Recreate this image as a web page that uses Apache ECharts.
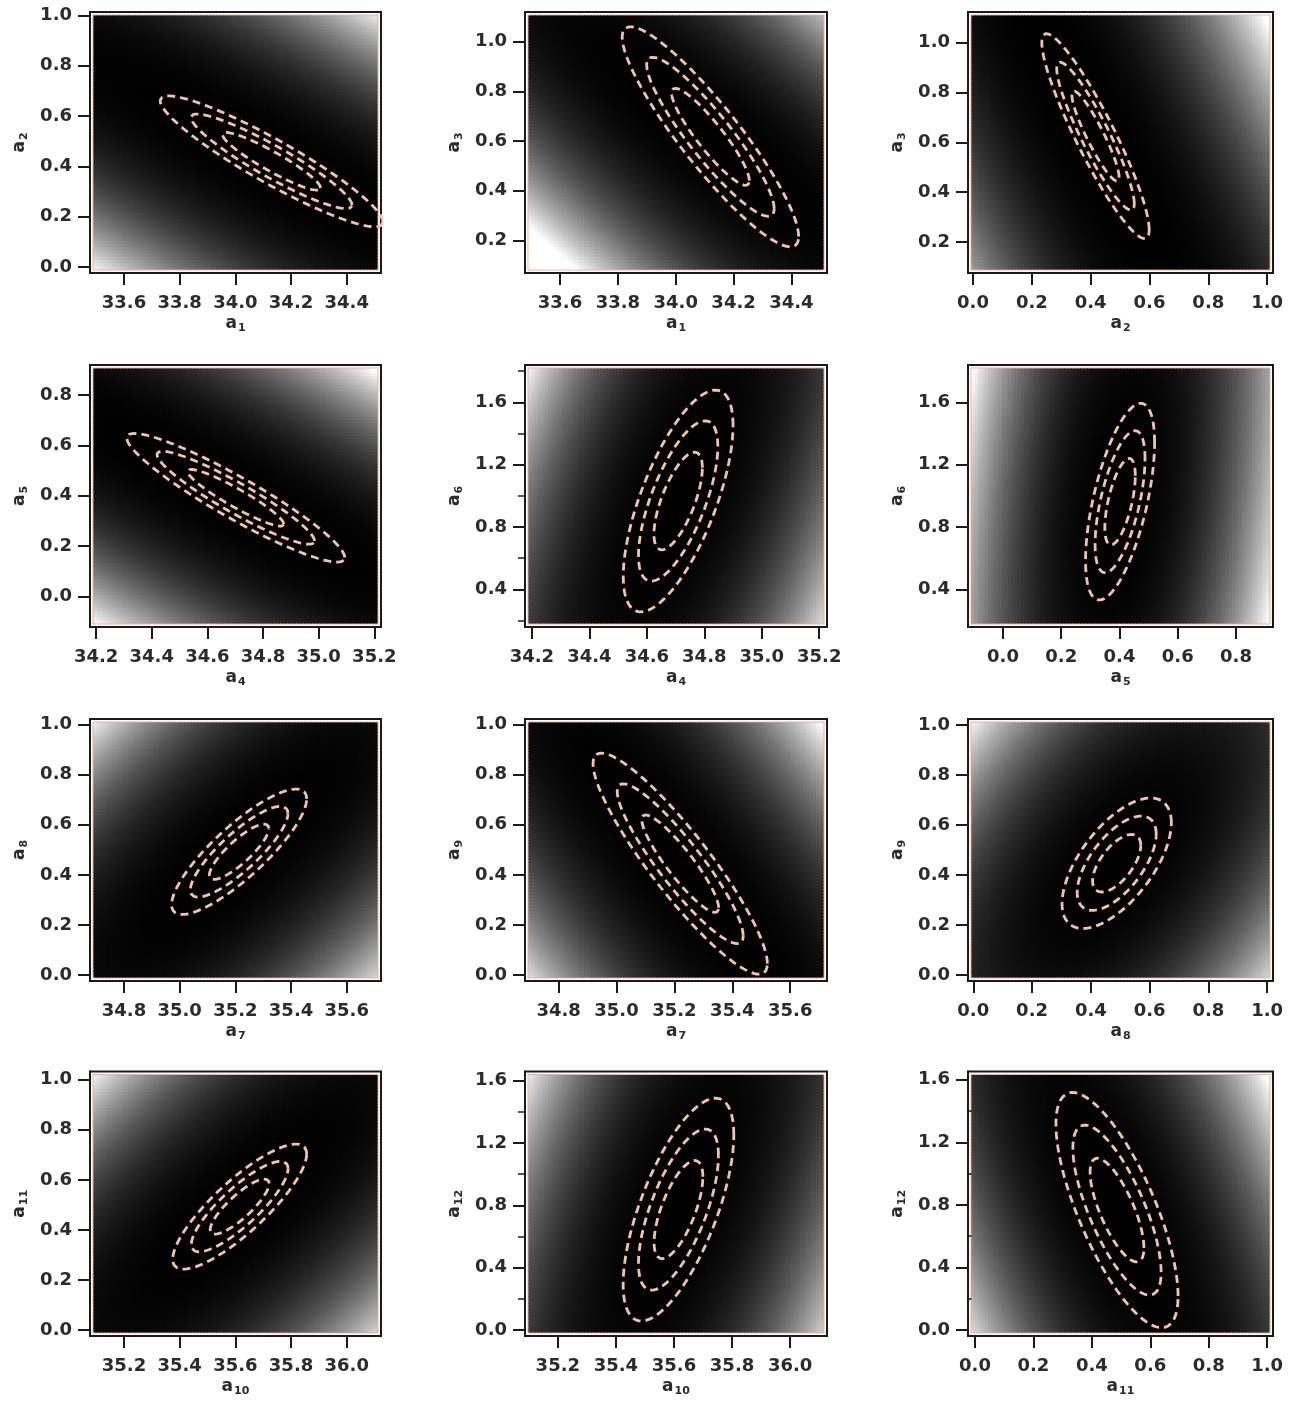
<!DOCTYPE html>
<html><head><meta charset="utf-8">
<script src="https://cdn.jsdelivr.net/npm/echarts@6/dist/echarts.min.js"></script>
<style>html,body{margin:0;padding:0;background:#fff}#chart{width:1306px;height:1406px}</style>
</head><body><div id="chart"></div>
<script>
// ---------- DATA ----------
const xSub = ['1', '1', '2', '4', '4', '5', '7', '7', '8', '10', '10', '11'];   // x axis: a_k
const ySub = ['2', '3', '3', '5', '6', '6', '8', '9', '9', '11', '12', '12'];   // y axis: a_k

const xMin = [33.478, 33.479, -0.017, 34.178, 34.176, -0.12, 34.678, 34.684, -0.018, 35.078, 35.087, -0.024];
const xMax = [34.523, 34.523, 1.02, 35.224, 35.227, 0.927, 35.723, 35.727, 1.02, 36.123, 36.127, 1.02];
const yMin = [-0.024, 0.069, 0.076, -0.122, 0.158, 0.158, -0.023, -0.023, -0.024, -0.024, -0.038, -0.038];
const yMax = [1.0135, 1.12, 1.123, 0.919, 1.84, 1.84, 1.021, 1.021, 1.024, 1.033, 1.658, 1.653];

const xTicks = [
  [33.6, 33.8, 34.0, 34.2, 34.4], [33.6, 33.8, 34.0, 34.2, 34.4], [0, 0.2, 0.4, 0.6, 0.8, 1.0],
  [34.2, 34.4, 34.6, 34.8, 35.0, 35.2], [34.2, 34.4, 34.6, 34.8, 35.0, 35.2], [0, 0.2, 0.4, 0.6, 0.8],
  [34.8, 35.0, 35.2, 35.4, 35.6], [34.8, 35.0, 35.2, 35.4, 35.6], [0, 0.2, 0.4, 0.6, 0.8, 1.0],
  [35.2, 35.4, 35.6, 35.8, 36.0], [35.2, 35.4, 35.6, 35.8, 36.0], [0, 0.2, 0.4, 0.6, 0.8, 1.0]
];
const yTicks = [
  [0, 0.2, 0.4, 0.6, 0.8, 1.0], [0.2, 0.4, 0.6, 0.8, 1.0], [0.2, 0.4, 0.6, 0.8, 1.0],
  [0, 0.2, 0.4, 0.6, 0.8], [0.4, 0.8, 1.2, 1.6], [0.4, 0.8, 1.2, 1.6],
  [0, 0.2, 0.4, 0.6, 0.8, 1.0], [0, 0.2, 0.4, 0.6, 0.8, 1.0], [0, 0.2, 0.4, 0.6, 0.8, 1.0],
  [0, 0.2, 0.4, 0.6, 0.8, 1.0], [0, 0.4, 0.8, 1.2, 1.6], [0, 0.4, 0.8, 1.2, 1.6]
];
const yMinorTicks = [
  [], [], [], [], [0.2, 0.6, 1.0, 1.4, 1.8], [0.2, 0.6, 1.0, 1.4, 1.8],
  [], [], [], [], [0.2, 0.6, 1.0, 1.4], [0.2, 0.6, 1.0, 1.4]
];

// best-fit centre, half extents of the outermost dashed contour, correlation
const centerX = [34.13, 34.12, 0.4165, 34.702, 34.709, 0.402, 35.2135, 35.22, 0.488, 35.6155, 35.6155, 0.486];
const centerY = [0.42, 0.6175, 0.625, 0.3915, 0.967, 0.9625, 0.492, 0.4445, 0.447, 0.493, 0.7725, 0.767];
const halfX   = [0.40, 0.305, 0.1825, 0.392, 0.191, 0.1185, 0.2425, 0.301, 0.186, 0.2405, 0.1905, 0.209];
const halfY   = [0.26, 0.443, 0.411, 0.2555, 0.712, 0.6315, 0.25, 0.4405, 0.261, 0.25, 0.7145, 0.752];
const corr    = [-0.925, -0.906, -0.914, -0.93, 0.68, 0.6, 0.843, -0.904, 0.62, 0.84, 0.67, -0.73];
const contourLevels = [2.30, 6.18, 11.83];   // delta chi^2 of the three dashed contours

// background chi^2 map: half extents and correlation of the contour drawn as white
const bgHalfX = [3.391, 2.131, 1.913, 3.419, 0.962, 0.61, 1.865, 1.996, 1.040, 1.850, 0.959, 1.035];
const bgHalfY = [2.204, 2.179, 4.309, 2.229, 3.586, 3.5, 1.923, 2.921, 1.460, 1.923, 3.598, 3.723];
const bgCorr  = [-0.925, -0.894, -0.914, -0.93, 0.68, 0.35, 0.843, -0.904, 0.62, 0.84, 0.67, -0.73];

// ---------- LAYOUT ----------
const colLeft = [90, 525, 968], colWidth = [291, 302, 305];
const rowTop = [12, 365, 719, 1071.5], rowHeight = [261, 262, 262, 264.5];
const N = 12, NX = 90, NY = 80, INSET = 4, GAMMA = 1.3;
const INK = '#1a1a1a';
const LABEL = {fontFamily: 'DejaVu Sans', fontWeight: 'bold', fontSize: 18, color: '#2b2b2b'};
const NAME_STYLE = {
  fontFamily: 'DejaVu Sans', fontWeight: 'bold', color: '#2b2b2b',
  rich: {
    a: {fontFamily: 'DejaVu Sans', fontWeight: 'bold', fontSize: 17, color: '#2b2b2b', lineHeight: 20},
    s: {fontFamily: 'DejaVu Sans', fontWeight: 'bold', fontSize: 11, color: '#2b2b2b', lineHeight: 12,
        padding: [10, 0, 0, 1], verticalAlign: 'bottom'}
  }
};
const fmt = v => Number(v).toFixed(1);

const grids = [], xAxes = [], yAxes = [], bgSeries = [], lineSeries = [];

function makeBgRender(cw, ch) {
  return function (params, api) {
    const x = api.value(0), y = api.value(1), g = api.value(2);
    const a = api.coord([x - cw / 2, y + ch / 2]);
    const b = api.coord([x + cw / 2, y - ch / 2]);
    const c = Math.round(255 * g);
    return {type: 'rect', silent: true,
      shape: {x: a[0] - 0.5, y: a[1] - 0.5, width: b[0] - a[0] + 1, height: b[1] - a[1] + 1},
      style: {fill: 'rgb(' + c + ',' + c + ',' + c + ')'}};
  };
}

for (let p = 0; p < N; p++) {
  const r = Math.floor(p / 3), c = p % 3;
  const L = colLeft[c], T = rowTop[r], W = colWidth[c], H = rowHeight[r];
  grids[p] = {left: L, top: T, width: W, height: H, show: true, borderColor: INK, borderWidth: 2, backgroundColor: 'transparent'};
  grids[N + p] = {left: L + INSET, top: T + INSET, width: W - 2 * INSET, height: H - 2 * INSET,
    show: true, borderColor: '#f1b29a', borderWidth: 3, backgroundColor: 'transparent'};

  xAxes[p] = {type: 'value', gridIndex: p, position: 'bottom', min: xMin[p], max: xMax[p],
    name: '{a|a}{s|' + xSub[p] + '}', nameLocation: 'middle', nameGap: 38, nameTextStyle: NAME_STYLE,
    axisLine: {show: true, onZero: false, lineStyle: {color: INK, width: 2}},
    axisTick: {show: true, inside: false, length: 12, lineStyle: {color: INK, width: 2}, customValues: xTicks[p]},
    axisLabel: Object.assign({margin: 21, customValues: xTicks[p], formatter: fmt}, LABEL),
    splitLine: {show: false}};
  yAxes[p] = {type: 'value', gridIndex: p, position: 'left', min: yMin[p], max: yMax[p],
    name: '{a|a}{s|' + ySub[p] + '}', nameLocation: 'middle', nameGap: 60, nameTextStyle: NAME_STYLE,
    axisLine: {show: true, onZero: false, lineStyle: {color: INK, width: 2}},
    axisTick: {show: true, inside: false, length: 12, lineStyle: {color: INK, width: 2}, customValues: yTicks[p]},
    axisLabel: Object.assign({margin: 18, customValues: yTicks[p], formatter: fmt}, LABEL),
    splitLine: {show: false}};

  xAxes[N + p] = {type: 'value', gridIndex: N + p, show: false, min: 0, max: 1};
  yAxes[N + p] = {type: 'value', gridIndex: N + p, show: false, min: 0, max: 1};

  // background chi^2 map sampled on cells inside the inner frame
  const bx = bgHalfX[p], by = bgHalfY[p], br = bgCorr[p], bom = 1 - br * br;
  const dxp = (xMax[p] - xMin[p]) * INSET / W, dyp = (yMax[p] - yMin[p]) * INSET / H;
  const hx0 = xMin[p] + dxp, hx1 = xMax[p] - dxp, hy0 = yMin[p] + dyp, hy1 = yMax[p] - dyp;
  const cw = (hx1 - hx0) / NX, ch = (hy1 - hy0) / NY;
  const data = [];
  for (let i = 0; i < NX; i++) {
    for (let j = 0; j < NY; j++) {
      const x = hx0 + (i + 0.5) * cw, y = hy0 + (j + 0.5) * ch;
      const u = (x - centerX[p]) / bx, v = (y - centerY[p]) / by;
      const q = (u * u - 2 * br * u * v + v * v) / bom;
      data.push([x, y, Math.pow(Math.min(1, q), GAMMA)]);
    }
  }
  bgSeries.push({type: 'custom', xAxisIndex: p, yAxisIndex: p, data: data, renderItem: makeBgRender(cw, ch),
    progressive: 0, silent: true, z: 1, encode: {x: 0, y: 1}});

  // dashed confidence contours
  const sx = halfX[p] / Math.sqrt(contourLevels[2]);
  const sy = halfY[p] / Math.sqrt(contourLevels[2]);
  const rho = corr[p], om = Math.sqrt(1 - rho * rho);
  for (let l = 0; l < contourLevels.length; l++) {
    const k = Math.sqrt(contourLevels[l]);
    const pts = [];
    const steps = 200;
    for (let s = 0; s <= steps; s++) {
      const t = 2 * Math.PI * s / steps;
      pts.push([centerX[p] + k * sx * Math.cos(t),
                centerY[p] + k * sy * (rho * Math.cos(t) + om * Math.sin(t))]);
    }
    lineSeries.push({type: 'line', xAxisIndex: p, yAxisIndex: p, data: pts, showSymbol: false, symbol: 'none',
      silent: true, clip: true, z: 3, lineStyle: {color: '#f4c3aa', width: 2.8, type: [8, 5]}});
  }
}
// minor ticks
for (let p = 0; p < N; p++) {
  if (!yMinorTicks[p].length) continue;
  yAxes.push({type: 'value', gridIndex: p, position: 'left', min: yMin[p], max: yMax[p],
    axisLine: {show: false}, axisLabel: {show: false}, splitLine: {show: false},
    axisTick: {show: true, inside: false, length: 7, lineStyle: {color: INK, width: 1.5}, customValues: yMinorTicks[p]}});
}

const chart = echarts.init(document.getElementById('chart'), null, {renderer: 'canvas'});
chart.setOption({
  animation: false,
  backgroundColor: '#ffffff',
  grid: grids, xAxis: xAxes, yAxis: yAxes,
  series: bgSeries.concat(lineSeries)
});
</script></body></html>
